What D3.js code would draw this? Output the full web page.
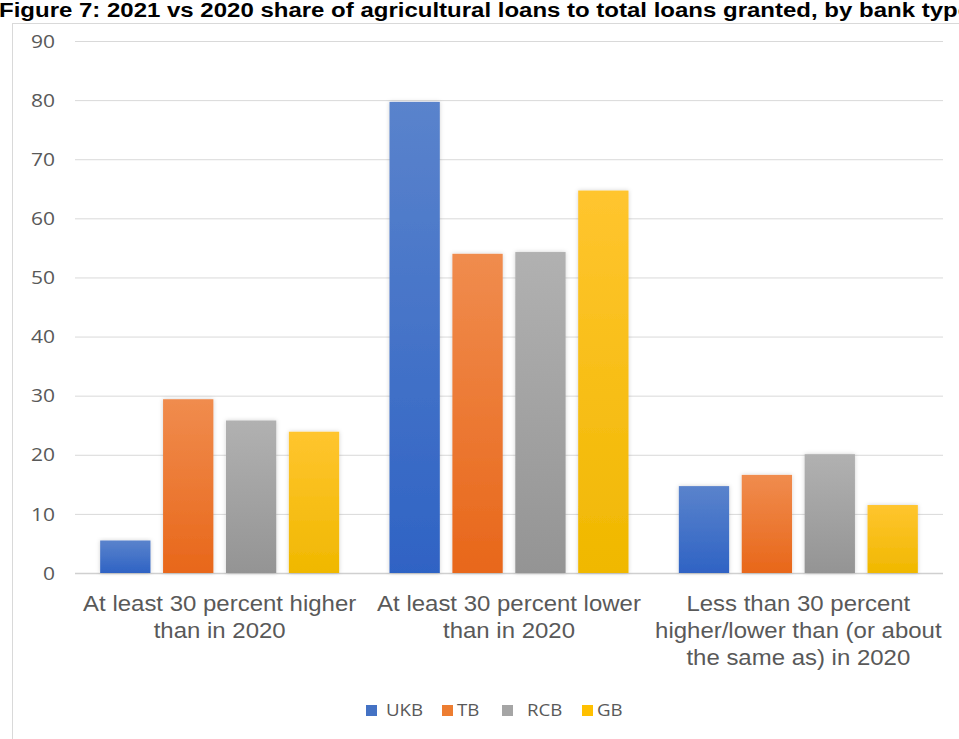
<!DOCTYPE html>
<html>
<head>
<meta charset="utf-8">
<script src="https://cdn.jsdelivr.net/npm/d3@7"></script>
<style>
  html, body { margin: 0; padding: 0; background: #fff; }
  svg { display: block; }
</style>
</head>
<body>
<svg id="chart" width="959" height="739"></svg>
<script>
const title = "Figure 7: 2021 vs 2020 share of agricultural loans to total loans granted, by bank type";
const categories = [
  ["At least 30 percent higher", "than in 2020"],
  ["At least 30 percent lower", "than in 2020"],
  ["Less than 30 percent", "higher/lower than (or about", "the same as) in 2020"]
];
const seriesNames = ["UKB", "TB", "RCB", "GB"];
const UKB = [5.5, 79.7, 14.7];
const TB  = [29.4, 54.0, 16.6];
const RCB = [25.8, 54.3, 20.1];
const GB  = [23.9, 64.7, 11.5];
const yTicks = [0, 10, 20, 30, 40, 50, 60, 70, 80, 90];
const colors = ["#4472C4", "#ED7D31", "#A5A5A5", "#FFC000"];
const topColors = ["#5a83cc", "#f08c4e", "#b1b1b1", "#ffc52f"];
const botColors = ["#2f63c4", "#e8671a", "#949494", "#f0b800"];

const seriesValues = [UKB, TB, RCB, GB];
const svg = d3.select("#chart");

const defs = svg.append("defs");
seriesNames.forEach((s, i) => {
  const g = defs.append("linearGradient").attr("id", "grad" + i)
    .attr("x1", 0).attr("y1", 0).attr("x2", 0).attr("y2", 1);
  g.append("stop").attr("offset", "0%").attr("stop-color", topColors[i]);
  g.append("stop").attr("offset", "100%").attr("stop-color", botColors[i]);
});
const f = defs.append("filter").attr("id", "shadow").attr("x", "-20%").attr("y", "-10%").attr("width", "140%").attr("height", "120%");
f.append("feDropShadow").attr("dx", 0).attr("dy", 0).attr("stdDeviation", 2)
  .attr("flood-color", "#000").attr("flood-opacity", 0.18);

// frame
svg.append("rect").attr("x", 12.5).attr("y", 23.5).attr("width", 960).attr("height", 730)
  .attr("fill", "#fff").attr("stroke", "#d9d9d9").attr("stroke-width", 1);

// title
svg.append("text").attr("x", -1).attr("y", 17)
  .attr("font-family", "Liberation Sans, Arial, sans-serif")
  .attr("font-weight", "bold").attr("font-size", 19.5)
  .attr("textLength", 972).attr("lengthAdjust", "spacingAndGlyphs")
  .attr("fill", "#000").text(title);

const plotL = 75, plotR = 943;
const y = d3.scaleLinear().domain([0, 90]).range([573, 41]);
const x0 = d3.scaleBand().domain(d3.range(categories.length)).range([plotL, plotR]).padding(0);
const x1 = d3.scaleBand().domain(seriesNames).range([0, x0.bandwidth()]).paddingInner(0.2).paddingOuter(0.4);

// gridlines
const grid = svg.append("g")
  .attr("transform", `translate(${plotL},0)`)
  .call(d3.axisLeft(y).tickValues(yTicks).tickSize(-(plotR - plotL)).tickFormat(""));
grid.select(".domain").remove();
grid.selectAll(".tick line").attr("stroke", "#d9d9d9").attr("stroke-width", 1);
grid.selectAll(".tick").filter(d => d === 0).select("line").attr("stroke", "#d0d0d0").attr("stroke-width", 1.5);

// y tick labels
const sxT = 1.2;
const yAxis = svg.append("g").attr("transform", `translate(${plotL},0)`)
  .call(d3.axisLeft(y).tickValues(yTicks).tickSize(0).tickPadding(0));
yAxis.select(".domain").remove();
yAxis.selectAll(".tick text")
  .attr("font-family", "Open Sans, sans-serif").attr("font-size", 17.5)
  .attr("fill", "#595959")
  .attr("text-anchor", "end")
  .attr("x", -20 / sxT)
  .attr("dy", "0.35em")
  .attr("transform", `scale(${sxT},1)`);

// bars
const groups = svg.append("g").selectAll("g").data(categories).join("g")
  .attr("transform", (d, i) => `translate(${x0(i)},0)`);
groups.selectAll("rect")
  .data((d, i) => seriesNames.map((s, k) => ({ s, k, v: seriesValues[k][i] })))
  .join("rect")
  .attr("x", d => x1(d.s))
  .attr("width", x1.bandwidth())
  .attr("y", d => y(d.v))
  .attr("height", d => y(0) - y(d.v))
  .attr("fill", d => `url(#grad${d.k})`)
  .attr("filter", "url(#shadow)");

// category labels
const sxC = 1.09;
categories.forEach((lines, i) => {
  const cx = x0(i) + x0.bandwidth() / 2;
  const t = svg.append("text")
    .attr("font-family", "Liberation Sans, Arial, sans-serif")
    .attr("font-size", 22).attr("fill", "#595959")
    .attr("text-anchor", "middle")
    .attr("transform", `scale(${sxC},1)`);
  lines.forEach((ln, j) => {
    t.append("tspan").attr("x", cx / sxC).attr("y", 611 + j * 27).text(ln);
  });
});

// legend
const sxL = 1.1;
const legendSq = [366, 442, 502, 582];
const legendTx = [386, 457, 527, 597];
const legend = svg.append("g");
seriesNames.forEach((s, i) => {
  legend.append("rect").attr("x", legendSq[i]).attr("y", 705).attr("width", 11).attr("height", 11)
    .attr("fill", colors[i]);
  legend.append("text").attr("x", legendTx[i] / sxL).attr("y", 716)
    .attr("transform", `scale(${sxL},1)`)
    .attr("font-family", "Open Sans, sans-serif").attr("font-size", 17)
    .attr("fill", "#595959").text(s);
});
</script>
</body>
</html>
